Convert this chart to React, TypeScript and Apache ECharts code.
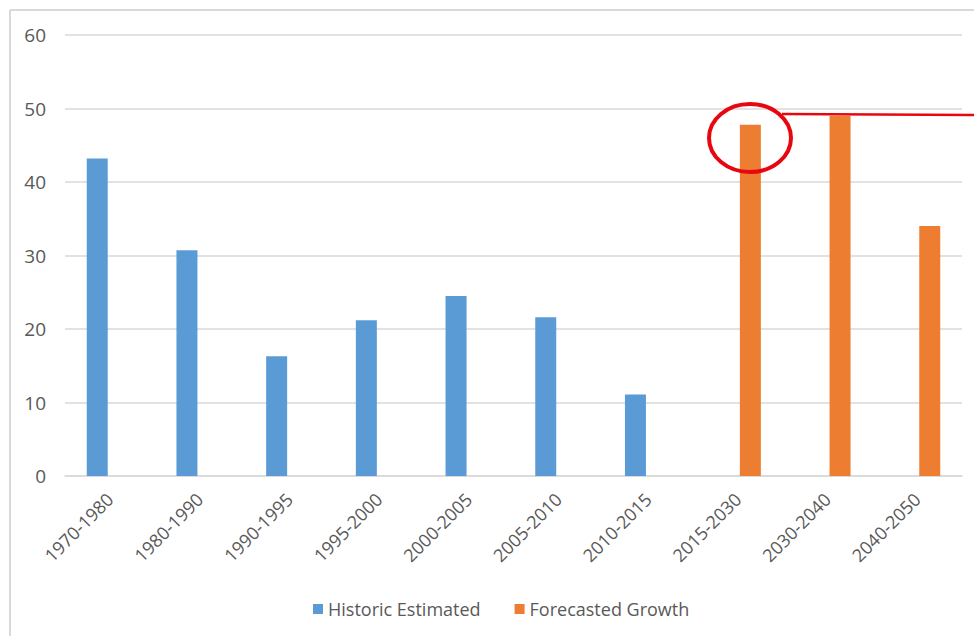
import React, { useEffect, useRef } from "react";
import * as echarts from "echarts";

const categories = [
  "1970-1980", "1980-1990", "1990-1995", "1995-2000", "2000-2005",
  "2005-2010", "2010-2015", "2015-2030", "2030-2040", "2040-2050",
];
const historic = [43.2, 30.7, 16.3, 21.2, 24.5, 21.6, 11.1, null, null, null];
const forecast = [null, null, null, null, null, null, null, 47.8, 49.0, 34.0];
const yTicks = { min: 0, max: 60, interval: 10 };

const FONT = "'Open Sans', 'Noto Sans', sans-serif";
const GRAY = "#595959";

export default function App() {
  const ref = useRef<HTMLDivElement>(null);
  useEffect(() => {
    if (!ref.current) return;
    const chart = echarts.init(ref.current, undefined, { renderer: "svg" });
    chart.setOption({
      animation: false,
      backgroundColor: "#ffffff",
      grid: { left: 65, right: 12, top: 35, bottom: 160, containLabel: false },
      xAxis: {
        type: "category",
        data: categories,
        axisLine: { lineStyle: { color: "#d9d9d9", width: 1.5 } },
        axisTick: { show: false },
        axisLabel: {
          rotate: 45,
          interval: 0,
          margin: 20,
          color: GRAY,
          fontSize: 18,
          fontFamily: FONT,
        },
      },
      yAxis: {
        type: "value",
        min: yTicks.min,
        max: yTicks.max,
        interval: yTicks.interval,
        axisLine: { show: false },
        axisTick: { show: false },
        splitLine: { lineStyle: { color: "#d9d9d9", width: 1.5 } },
        axisLabel: { color: GRAY, fontSize: 19, fontFamily: FONT, margin: 19 },
      },
      legend: {
        left: 308,
        top: 595,
        itemWidth: 10,
        itemHeight: 10,
        itemGap: 34,
        icon: "rect",
        textStyle: { color: GRAY, fontSize: 18, fontFamily: FONT },
        data: ["Historic Estimated", "Forecasted Growth"],
      },
      series: [
        {
          name: "Historic Estimated",
          type: "bar",
          data: historic,
          barWidth: 21,
          barGap: "20%",
          itemStyle: { color: "#5b9bd5" },
        },
        {
          name: "Forecasted Growth",
          type: "bar",
          data: forecast,
          barWidth: 21,
          barGap: "20%",
          itemStyle: { color: "#ed7d31" },
        },
      ],
      graphic: [
        { type: "line", shape: { x1: 10, y1: 10, x2: 974, y2: 10 }, style: { stroke: "#d9d9d9", lineWidth: 2 } },
        { type: "line", shape: { x1: 10, y1: 10, x2: 10, y2: 636 }, style: { stroke: "#d9d9d9", lineWidth: 2 } },
        { type: "line", shape: { x1: 782, y1: 114, x2: 974, y2: 115 }, style: { stroke: "#e8070f", lineWidth: 2.5 } },
        {
          type: "ellipse",
          shape: { cx: 750, cy: 138, rx: 41, ry: 34 },
          style: { stroke: "#e8070f", lineWidth: 4, fill: "none" },
          z: 100,
        },
      ],
    });
    return () => chart.dispose();
  }, []);
  return (
    <div
      ref={ref}
      style={{ position: "fixed", left: 0, top: 0, width: 974, height: 636 }}
    />
  );
}
